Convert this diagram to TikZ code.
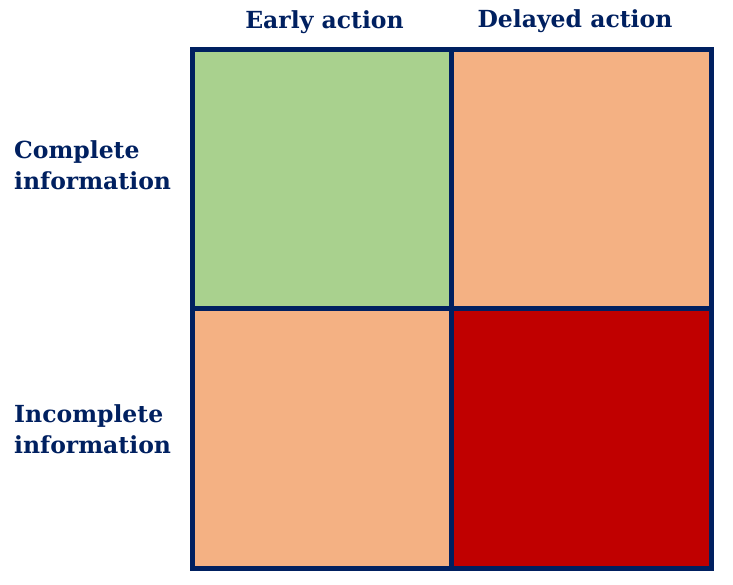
\documentclass[tikz,border=0pt]{standalone}
\usepackage{fontspec}
\setmainfont{DejaVu Serif}
\definecolor{navy}{HTML}{002060}
\definecolor{cgreen}{HTML}{A9D18E}
\definecolor{corange}{HTML}{F4B183}
\definecolor{cred}{HTML}{C00000}
\begin{document}
\begin{tikzpicture}[x=1pt,y=-1pt,
  cell/.style={draw=navy,line width=5pt},
  lbl/.style={text=navy,font=\fontsize{23.5}{31}\selectfont\bfseries,inner sep=0pt}]
\useasboundingbox[fill=white] (0,0) rectangle (733,585);
\path[cell,fill=cgreen] (192.5,49.5) rectangle (451.5,308.5);
\path[cell,fill=corange] (451.5,49.5) rectangle (711,308.5);
\path[cell,fill=corange] (192.5,308.5) rectangle (451.5,568.5);
\path[cell,fill=cred] (451.5,308.5) rectangle (711,568.5);
\node[lbl] (ea) at (324.5,22) {Early action};
\node[lbl] (da) at (575,21) {Delayed action};
\node[lbl,anchor=west,align=left] (ci) at (14,165) {Complete\\information};
\node[lbl,anchor=west,align=left] (ii) at (14,429) {Incomplete\\information};
\end{tikzpicture}
\end{document}
